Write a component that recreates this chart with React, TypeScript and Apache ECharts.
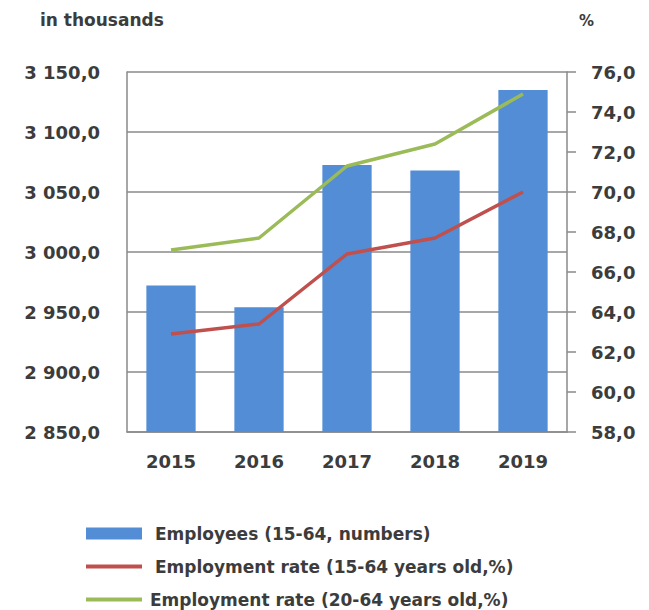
import React, { useEffect, useRef } from "react";
import * as echarts from "echarts";

const categories = ["2015", "2016", "2017", "2018", "2019"];
const employees = [2972, 2954, 3072.5, 3068, 3135];
const rate1564 = [62.9, 63.4, 66.9, 67.7, 70.0];
const rate2064 = [67.1, 67.7, 71.3, 72.4, 74.9];

const seriesNames = [
  "Employees (15-64, numbers)",
  "Employment rate (15-64 years old,%)",
  "Employment rate (20-64 years old,%)",
];
const leftUnit = "in thousands";
const rightUnit = "%";

const FONT = "DejaVu Sans";
const TEXT = "#3c3c3c";
const GRID = "#8a8a8a";

function fmt(v: number): string {
  const s = v.toFixed(1);
  const [i, d] = s.split(".");
  const withSpace = i.replace(/\B(?=(\d{3})+(?!\d))/g, " ");
  return withSpace + "," + d;
}

export default function App() {
  const ref = useRef<HTMLDivElement>(null);
  useEffect(() => {
    if (!ref.current) return;
    const chart = echarts.init(ref.current, undefined, { renderer: "svg" });
    const legendText = {
      fontFamily: FONT,
      fontSize: 17,
      fontWeight: "bold" as const,
      color: TEXT,
    };
    const axisText = {
      fontFamily: FONT,
      fontSize: 18,
      fontWeight: "bold" as const,
      color: TEXT,
    };
    chart.setOption({
      animation: false,
      backgroundColor: "#ffffff",
      grid: { left: 127, right: 82, top: 72, bottom: 178 },
      graphic: [
        {
          type: "text",
          left: 40,
          top: 11,
          style: { text: leftUnit, fontFamily: FONT, fontSize: 17, fontWeight: "bold", fill: TEXT },
        },
        {
          type: "text",
          left: 579,
          top: 13,
          style: { text: rightUnit, fontFamily: FONT, fontSize: 15, fontWeight: "bold", fill: TEXT },
        },
      ],
      legend: [
        {
          data: [{ name: seriesNames[0], icon: "rect" }],
          left: 81,
          top: 520,
          itemWidth: 56,
          itemHeight: 12,
          selectedMode: false,
          textStyle: { ...legendText, padding: [0, 0, 0, 8] },
        },
        {
          data: [{ name: seriesNames[1], icon: "rect" }],
          left: 81,
          top: 553,
          itemWidth: 56,
          itemHeight: 4,
          selectedMode: false,
          textStyle: { ...legendText, padding: [0, 0, 0, 8] },
        },
        {
          data: [{ name: seriesNames[2], icon: "rect" }],
          left: 81,
          top: 586,
          itemWidth: 56,
          itemHeight: 4,
          selectedMode: false,
          textStyle: { ...legendText, padding: [0, 0, 0, 3] },
        },
      ],
      xAxis: {
        type: "category",
        data: categories,
        axisLine: { show: true, lineStyle: { color: GRID, width: 1.5 } },
        axisTick: { show: false },
        axisLabel: { margin: 20, ...axisText },
      },
      yAxis: [
        {
          type: "value",
          min: 2850,
          max: 3150,
          interval: 50,
          axisLine: { show: true, lineStyle: { color: GRID, width: 1.5 } },
          axisTick: { show: false },
          splitLine: { show: true, lineStyle: { color: GRID, width: 1.5 } },
          axisLabel: {
            margin: 27,
            ...axisText,
            formatter: (v: number) => fmt(v),
          },
        },
        {
          type: "value",
          min: 58,
          max: 76,
          interval: 2,
          position: "right",
          axisLine: { show: true, lineStyle: { color: GRID, width: 1.5 } },
          axisTick: { show: true, inside: false, length: 9, lineStyle: { color: GRID, width: 1.5 } },
          splitLine: { show: false },
          axisLabel: {
            margin: 24,
            ...axisText,
            formatter: (v: number) => fmt(v),
          },
        },
      ],
      series: [
        {
          name: seriesNames[0],
          type: "bar",
          data: employees,
          yAxisIndex: 0,
          barWidth: "56%",
          itemStyle: { color: "#538DD5" },
        },
        {
          name: seriesNames[1],
          type: "line",
          data: rate1564,
          yAxisIndex: 1,
          showSymbol: false,
          symbol: "none",
          lineStyle: { color: "#C0504D", width: 3.5 },
          itemStyle: { color: "#C0504D" },
        },
        {
          name: seriesNames[2],
          type: "line",
          data: rate2064,
          yAxisIndex: 1,
          showSymbol: false,
          symbol: "none",
          lineStyle: { color: "#9BBB59", width: 3.5 },
          itemStyle: { color: "#9BBB59" },
        },
      ],
    });
    return () => chart.dispose();
  }, []);
  return (
    <div
      ref={ref}
      style={{ position: "fixed", left: 0, top: 0, width: 649, height: 610 }}
    />
  );
}
